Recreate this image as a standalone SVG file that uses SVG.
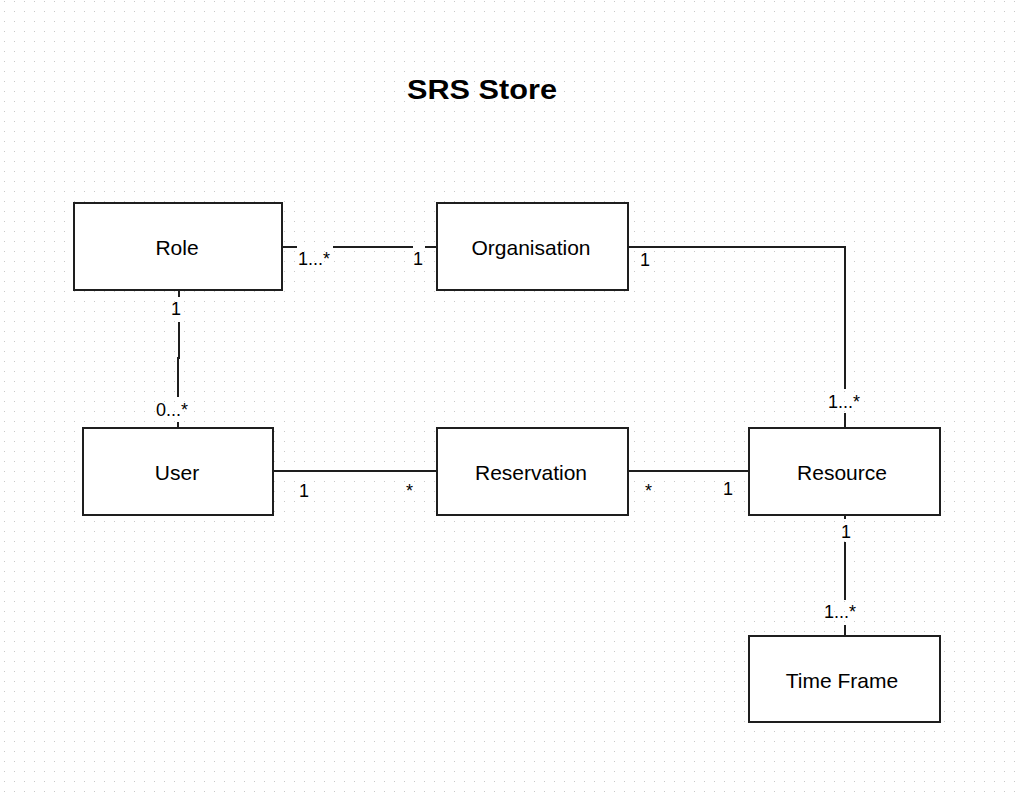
<svg xmlns="http://www.w3.org/2000/svg" width="1015" height="797" viewBox="0 0 1015 797">
<defs>
<pattern id="grid" x="0" y="0" width="10" height="10" patternUnits="userSpaceOnUse">
<rect x="4" y="1" width="1" height="1" fill="#c8c8c8"/>
</pattern>
<style>
.box{fill:#fff;stroke:#1e1e1e;stroke-width:2}
.lbl{font-family:"Liberation Sans",Arial,sans-serif;font-size:21px;fill:#000;text-anchor:middle}
.m{font-family:"Liberation Sans",Arial,sans-serif;font-size:18px;fill:#000}
.ln{fill:none;stroke:#1e1e1e;stroke-width:2}
</style>
</defs>
<rect width="1015" height="797" fill="#fff"/>
<rect width="1015" height="797" fill="url(#grid)"/>
<text x="482" y="99" font-family="'Liberation Sans',Arial,sans-serif" font-weight="bold" font-size="27" text-anchor="middle" textLength="150" lengthAdjust="spacingAndGlyphs">SRS Store</text>
<g id="connectors">
<path class="ln" d="M282 247H297M333 247H413M425 247H437"/>
<path class="ln" d="M628 247H845V389M845 413V428"/>
<path class="ln" d="M179 290V297M179 322V358H178V397M178 422V428"/>
<path class="ln" d="M273 471H437"/>
<path class="ln" d="M628 471H749" stroke-width="2.5"/>
<path class="ln" d="M845 515V519M845 542V600M845 625V636"/>
<text class="m" x="298" y="265">1...*</text>
<text class="m" x="413" y="265">1</text>
<text class="m" x="640" y="266">1</text>
<text class="m" x="171" y="315">1</text>
<text class="m" x="156" y="416">0...*</text>
<text class="m" x="828" y="408">1...*</text>
<text class="m" x="299" y="497">1</text>
<text class="m" x="406" y="497">*</text>
<text class="m" x="645" y="497">*</text>
<text class="m" x="723" y="495">1</text>
<text class="m" x="841" y="538">1</text>
<text class="m" x="824" y="618">1...*</text>
</g>
<g id="role"><rect class="box" x="74" y="203" width="208" height="87"/><text class="lbl" x="177" y="255">Role</text></g>
<g id="organisation"><rect class="box" x="437" y="203" width="191" height="87"/><text class="lbl" x="531" y="255">Organisation</text></g>
<g id="user"><rect class="box" x="83" y="428" width="190" height="87"/><text class="lbl" x="177" y="480">User</text></g>
<g id="reservation"><rect class="box" x="437" y="428" width="191" height="87"/><text class="lbl" x="531" y="480">Reservation</text></g>
<g id="resource"><rect class="box" x="749" y="428" width="191" height="87"/><text class="lbl" x="842" y="480">Resource</text></g>
<g id="timeframe"><rect class="box" x="749" y="636" width="191" height="86"/><text class="lbl" x="842" y="688">Time Frame</text></g>
</svg>
